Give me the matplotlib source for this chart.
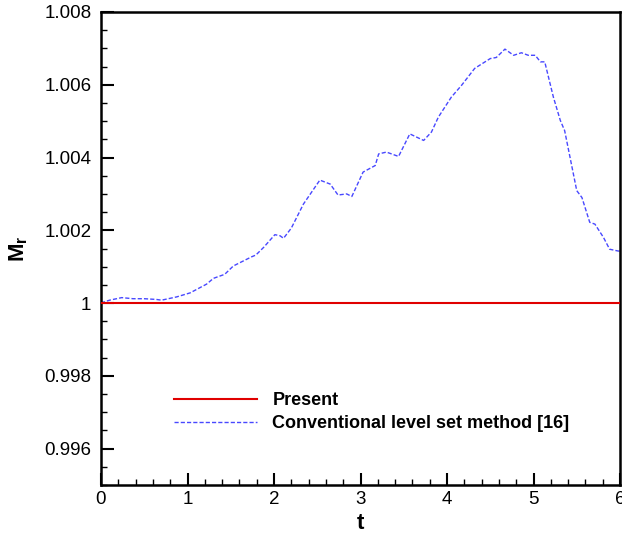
import matplotlib
matplotlib.use("Agg")
import matplotlib.pyplot as plt
from matplotlib.ticker import MultipleLocator, FormatStrFormatter

plt.rcParams['font.family'] = ['Liberation Sans', 'DejaVu Sans']
plt.rcParams['mathtext.fontset'] = 'custom'
plt.rcParams['mathtext.rm'] = 'Liberation Sans'
plt.rcParams['mathtext.bf'] = 'Liberation Sans:bold'

present_t = [0.0, 6.0]
present_m = [1.0, 1.0]

conv_t = [0.00, 0.02, 0.10, 0.24, 0.37, 0.50, 0.64, 0.70, 0.875, 1.03, 1.22, 1.30, 1.43, 1.53,
          1.74, 1.79, 1.88, 2.01, 2.07, 2.11, 2.20, 2.34, 2.53, 2.65, 2.74, 2.84, 2.90,
          3.03, 3.17, 3.21, 3.30, 3.44, 3.57, 3.73, 3.82, 3.90, 4.05, 4.17, 4.32,
          4.50, 4.57, 4.67, 4.77, 4.86, 4.94, 5.02, 5.08, 5.13, 5.23, 5.31, 5.36,
          5.50, 5.56, 5.65, 5.71, 5.81, 5.88, 5.98, 6.00]
conv_m = [1.00000, 1.00002, 1.00008, 1.00015, 1.00012, 1.00012, 1.00010, 1.00008, 1.00017, 1.00028,
          1.00052, 1.00068, 1.00079, 1.00102, 1.00127, 1.00132, 1.00153, 1.00188, 1.00185, 1.00178,
          1.00206, 1.00272, 1.00338, 1.00327, 1.00297, 1.00300, 1.00293, 1.00360, 1.00378,
          1.00410, 1.00415, 1.00403, 1.00465, 1.00447, 1.00470, 1.00511, 1.00566, 1.00599,
          1.00645, 1.00672, 1.00675, 1.00698, 1.00681, 1.00688, 1.00681, 1.00681, 1.00663,
          1.00663, 1.00566, 1.00502, 1.00474, 1.00309, 1.00290, 1.00222, 1.00217, 1.00180,
          1.00148, 1.00143, 1.00143]

fig = plt.figure(figsize=(6.22, 5.37), dpi=100)
ax = fig.add_axes([101/622, 1-485/537, 519/622, 473/537])

ax.plot(present_t, present_m, color='#e00000', lw=1.5, label='Present', zorder=3)
ax.plot(conv_t, conv_m, color='#4848ff', lw=1.0, ls=(0, (3, 1.5)),
        label='Conventional level set method [16]', zorder=2)

ax.set_xlim(0, 6)
ax.set_ylim(0.995, 1.008)
ax.xaxis.set_major_locator(MultipleLocator(1))
ax.xaxis.set_minor_locator(MultipleLocator(0.2))
ax.yaxis.set_major_locator(MultipleLocator(0.002))
ax.yaxis.set_minor_locator(MultipleLocator(0.0005))
ax.xaxis.set_major_formatter(FormatStrFormatter('%g'))
ax.yaxis.set_major_formatter(FormatStrFormatter('%g'))

ax.tick_params(which='both', direction='in', top=False, right=False, labelsize=13.5, width=1.5)
ax.tick_params(which='major', length=9, pad=7)
ax.tick_params(axis='x', which='major', pad=4)
ax.tick_params(which='minor', length=4.5, width=1)
for s in ax.spines.values():
    s.set_linewidth(1.8)

ax.set_xlabel('t', fontsize=16, fontweight='bold', labelpad=4)
ax.set_ylabel(r'$\mathbf{M_r}$', fontsize=16, labelpad=10)

leg = ax.legend(loc='center left', bbox_to_anchor=((174-101)/519, (485-412)/473),
                frameon=False, borderpad=0, borderaxespad=0, handlelength=4.6,
                handletextpad=0.85, labelspacing=0.35,
                prop={'weight': 'bold', 'size': 13})

fig.savefig('out.png', dpi=100)
